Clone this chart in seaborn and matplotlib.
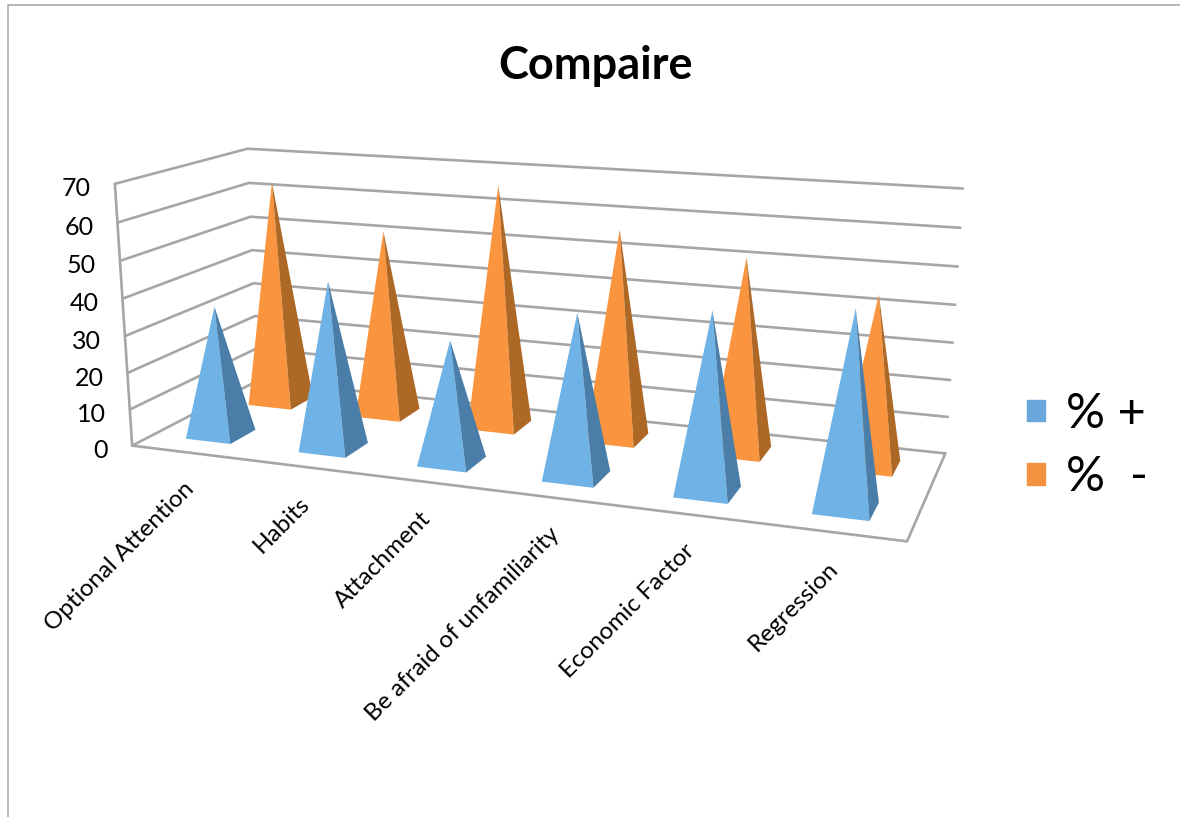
import numpy as np
import pandas as pd
import matplotlib
matplotlib.use("Agg")
import matplotlib.pyplot as plt
from matplotlib.patches import Patch
import seaborn as sns

categories = ["Optional Attention", "Habits", "Attachment",
              "Be afraid of unfamiliarity", "Economic Factor", "Regression"]
plus_values = [35.5, 45, 32.3, 42.3, 45.7, 49]
minus_values = [63.7, 52, 66.7, 57, 52, 45]
series_names = ["% +", "%  -"]
z_ticks = [0, 10, 20, 30, 40, 50, 60, 70]

sns.set_theme(style="white")
plt.rcParams["font.family"] = ["Lato", "DejaVu Sans"]

# calibration of the 3-D view: (category, depth, value) -> figure pixels
VIEW = [
    ((0, 0, 0), (132, 445)), ((0, 0, 70), (115, 184)), ((0, 0, 30), (125, 336)),
    ((0, 2, 70), (247, 149)), ((0, 2, 30), (254, 282)), ((0, 2, 0), (258, 382)),
    ((6, 2, 70), (963, 189)), ((6, 2, 30), (953, 342)), ((6, 2, 0), (945, 453)),
    ((6, 0, 0), (907, 542)),
]
rows, rhs = [], []
for (x, y, z), (u, v) in VIEW:
    rows.append([x, y, z, 1, 0, 0, 0, 0, -u * x, -u * y, -u * z]); rhs.append(u)
    rows.append([0, 0, 0, 0, x, y, z, 1, -v * x, -v * y, -v * z]); rhs.append(v)
P = np.append(np.linalg.lstsq(np.array(rows, float), np.array(rhs, float), rcond=None)[0], 1).reshape(3, 4)


def proj(x, y, z):
    p = P @ np.array([x, y, z, 1.0])
    return p[0] / p[2], p[1] / p[2]


fig = plt.figure(figsize=(11.8, 8.17), dpi=100)
ax = fig.add_axes([0, 0, 1, 1])
ax.set_xlim(0, 1180)
ax.set_ylim(817, 0)

# frame and grid, as polylines in the view
segs = []
for z in z_ticks:
    segs.append([(0, 0, z), (0, 2, z), (6, 2, z)])
segs.append([(0, 0, 0), (6, 0, 0), (6, 2, 0)])
segs.append([(0, 0, 0), (0, 0, 70)])
recs = []
for k, s in enumerate(segs):
    for n, pt in enumerate(s):
        u, v = proj(*pt)
        recs.append(dict(line=k, order=n, u=u, v=v))
grid = pd.DataFrame(recs)
sns.lineplot(data=grid, x="u", y="v", units="line", estimator=None, sort=False,
             color="#A6A6A6", linewidth=1.9, ax=ax, legend=False, zorder=1)

# chart-area border
ax.plot([8, 8, 1180], [817, 4.5, 4.5], color="#ABABAB", lw=1.2, zorder=1)

colors = {"plus": ("#6EB2E6", "#4A7EA8"), "minus": ("#FA943E", "#AE6826")}
HW, HD = 0.2, 0.2


def pyramid(i, yc, val, front, side, z):
    x0, x1 = i + 0.5 - HW, i + 0.5 + HW
    y0, y1 = yc - HD, yc + HD
    apex = proj(i + 0.5, yc, val)
    ax.fill(*zip(proj(x0, y0, 0), proj(x1, y0, 0), apex), color=front, lw=0, zorder=z)
    ax.fill(*zip(proj(x1, y0, 0), proj(x1, y1, 0), apex), color=side, lw=0, zorder=z)


for i, val in enumerate(minus_values):
    pyramid(i, 1.5, val, *colors["minus"], 2)
for i, val in enumerate(plus_values):
    pyramid(i, 0.5, val, *colors["plus"], 3)

for z in z_ticks:
    u, v = proj(0, 0, z)
    ax.text(u - 24, v + 5, str(z), ha="right", va="center", fontsize=18, color="black")

for i, name in enumerate(categories):
    u, v = proj(i + 0.5, 0, 0)
    ax.text(u - 5, v + 26, name, rotation=45, rotation_mode="anchor",
            ha="right", va="top", fontsize=17.5, color="black")

ax.text(595, 66, "Compaire", ha="center", va="center", fontsize=32.5, fontweight="bold", color="black")

handles = [Patch(color="#6AA8DC", label=series_names[0]),
           Patch(color="#F39240", label=series_names[1])]
ax.legend(handles=handles, loc="upper left", bbox_to_anchor=(1027, 392),
          bbox_transform=ax.transData, frameon=False, fontsize=35,
          handlelength=0.38, handleheight=0.3, handletextpad=0.43,
          labelspacing=0.4, borderpad=0, borderaxespad=0, labelcolor="black")
ax.set_axis_off()
fig.savefig("out.png", dpi=100)
